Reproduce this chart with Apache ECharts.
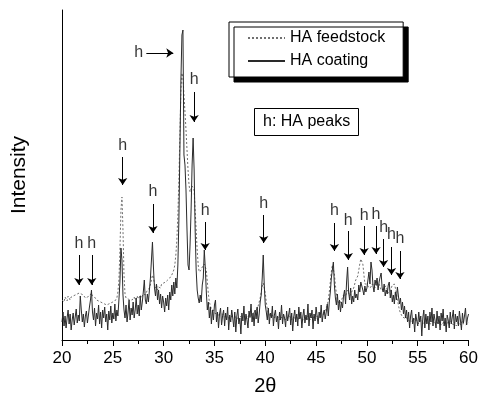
<!DOCTYPE html>
<html><head><meta charset="utf-8">
<script src="https://cdn.jsdelivr.net/npm/echarts@6/dist/echarts.min.js"></script>
<style>html,body{margin:0;padding:0;background:#fff}#c{width:481px;height:405px}</style>
</head><body><div id="c"></div>
<script>
// 2θ sampling grid (degrees)
const thetaStart = 20, thetaStep = 0.1;
// HA coating (solid) intensities, arbitrary units, one value per 0.1°
const coating = [
18,28,14,24,12,22,30,16,26,10,
20,27,15,23,31,17,25,19,44,30,
18,26,13,24,29,17,25,33,40,50,
28,20,32,14,27,21,35,16,28,12,
30,22,33,18,26,10,29,20,34,17,
27,21,36,19,30,24,40,58,92,80,
45,30,22,35,18,28,40,20,32,25,
38,22,30,42,26,35,24,44,30,38,
48,60,40,36,46,38,50,62,80,98,
72,52,44,56,40,50,36,46,32,44,
38,28,42,34,45,30,48,40,55,44,
58,46,62,52,75,120,190,260,305,310,
185,175,150,110,75,70,95,130,175,202,
170,110,70,50,42,37,45,38,55,62,
90,72,48,30,38,22,33,16,30,20,
35,40,18,28,12,26,32,15,24,30,
14,27,20,33,10,25,18,30,22,13,
28,8,24,31,16,22,6,27,19,34,
15,26,20,12,29,23,36,18,27,14,
30,21,33,17,26,38,45,62,85,55,
35,28,20,32,16,27,22,34,14,25,
30,18,24,11,28,20,35,16,26,22,
13,29,19,25,32,15,27,9,23,30,
18,26,14,33,21,28,12,24,31,17,
25,20,36,14,27,22,30,11,26,19,
33,24,16,28,22,35,18,26,30,21,
28,36,24,38,48,62,70,78,55,42,
35,46,30,40,28,38,32,44,50,36,
58,73,48,40,52,36,44,38,50,42,
46,40,55,48,58,60,50,45,54,48,
52,60,68,56,78,70,54,48,60,55,
62,50,58,63,67,52,48,56,44,50,
46,55,58,42,50,38,45,36,48,40,
53,44,36,42,30,38,26,34,22,30,
18,28,12,24,30,16,22,8,26,20,
14,28,18,24,4,22,30,12,26,16,
24,10,28,18,32,14,26,20,12,29,
16,24,10,27,19,31,14,22,8,25,
20,12,28,16,23,30,11,26,18,24,
14,29,20,10,27,17,24,32,15,22,
26
];
// HA feedstock (dashed) intensities
const feedstock = [
40,42,38,43,41,39,44,42,40,43,
41,44,42,45,43,46,44,47,48,46,
44,45,43,42,44,43,45,44,46,47,
44,42,43,41,40,42,39,40,38,39,
37,38,36,37,35,37,36,38,37,36,
38,37,39,40,42,48,60,90,130,143,
110,65,46,42,40,41,39,40,42,40,
41,43,40,42,44,41,43,45,42,44,
46,48,45,47,50,48,52,55,60,65,
62,56,52,55,50,53,55,52,56,54,
57,55,58,56,60,58,62,60,65,63,
70,75,85,100,125,160,205,250,267,262,
245,228,210,190,170,155,148,150,154,156,
150,130,110,90,75,68,67,70,73,75,
76,75,70,58,46,38,34,31,29,30,
27,29,26,28,25,27,26,24,26,25,
23,25,24,26,22,24,23,21,24,22,
24,21,23,22,20,23,21,24,22,23,
22,24,21,23,25,22,24,26,25,28,
27,29,31,34,38,42,48,54,57,55,
47,38,31,27,25,24,23,25,22,24,
23,21,24,22,20,23,21,22,24,21,
22,20,23,21,24,22,20,23,21,22,
21,23,20,22,24,21,23,20,22,21,
23,21,24,22,20,23,22,21,24,22,
21,24,22,23,25,24,26,25,28,30,
32,35,40,48,58,68,75,74,66,55,
46,40,38,36,37,40,42,45,43,44,
46,50,47,44,45,48,50,52,56,60,
58,64,70,76,81,82,76,66,56,54,
56,54,52,50,53,56,58,55,52,54,
56,58,56,53,50,48,50,53,55,54,
50,47,45,48,52,55,57,56,52,46,
40,35,30,27,25,23,24,22,21,23,
20,22,19,21,18,20,22,19,17,20,
18,16,19,17,20,18,16,19,17,18,
20,17,19,16,18,20,17,15,18,19,
17,19,16,18,15,17,19,16,18,17,
15,18,16,19,17,15,18,16,14,17,
16,18,15,17,19,16,18,15,17,16,
18
];
// "h" peak markers: 2θ, arrow top, arrow tip, label height
const peakTheta = [21.66,22.93,25.97,28.95,33.0,34.08,39.85,46.8,48.17,49.73,50.9,51.64,52.42,53.25];
const arrowTop  = [85,85,183,136,248,118,125,117,109,114,114,101,93,89];
const arrowTip  = [55,55,155,107,218,90,97,89,80,85,86,73,65,61];
const labelY    = [96,96,194,148,260,129,136,129,119,124,125,112,105,101];
// horizontal marker at main peak: label x, arrow start x, arrow end x, height
const mainMarker = {labelX: 27.55, fromX: 28.3, toX: 30.95, y: 287};
const xTicks = [20,25,30,35,40,45,50,55,60];

const font = 'Liberation Sans, Arial, Helvetica, sans-serif';
const pair = (arr) => arr.map((v, i) => [+(thetaStart + i * thetaStep).toFixed(1), v]);

const arrowLines = peakTheta.map((t, i) => [{coord: [t, arrowTop[i]]}, {coord: [t, arrowTip[i]]}]);
arrowLines.push([{coord: [mainMarker.fromX, mainMarker.y]}, {coord: [mainMarker.toX, mainMarker.y]}]);
const labelPts = peakTheta.map((t, i) => [t, labelY[i]]);
labelPts.push([mainMarker.labelX, mainMarker.y]);

const chart = echarts.init(document.getElementById('c'), null, {renderer: 'canvas'});
chart.setOption({
  animation: false,
  backgroundColor: '#fff',
  textStyle: {fontFamily: font},
  grid: {left: 62, right: 10, top: 10, bottom: 65},
  title: {
    text: 'h: HA peaks', left: 254, top: 108,
    borderColor: '#000', borderWidth: 1, padding: [6, 9],
    textStyle: {fontSize: 16, fontWeight: 'normal', color: '#000', fontFamily: font}
  },
  legend: {
    orient: 'vertical', left: 229, top: 22,
    padding: [8, 18, 8, 18], itemGap: 7, itemWidth: 37, itemHeight: 14,
    backgroundColor: '#fff', borderColor: '#000', borderWidth: 1,
    shadowColor: '#000', shadowBlur: 0, shadowOffsetX: 5, shadowOffsetY: 5,
    itemStyle: {opacity: 0},
    textStyle: {fontSize: 16, color: '#000', fontFamily: font},
    data: ['HA feedstock', 'HA coating']
  },
  xAxis: {
    type: 'value', min: 20, max: 60, interval: 5,
    name: '2θ', nameLocation: 'middle', nameGap: 36,
    nameTextStyle: {fontSize: 20, color: '#000', fontFamily: font},
    axisLine: {lineStyle: {color: '#000', width: 1}},
    axisTick: {length: 6, lineStyle: {color: '#000'}},
    minorTick: {show: true, splitNumber: 2, length: 4, lineStyle: {color: '#000'}},
    splitLine: {show: false},
    axisLabel: {fontSize: 17, color: '#000', margin: 10, fontFamily: font,
      formatter: (v) => xTicks.includes(v) ? String(v) : ''}
  },
  yAxis: {
    type: 'value', min: 0, max: 330,
    name: 'Intensity', nameLocation: 'middle', nameGap: 32, nameRotate: 90,
    nameTextStyle: {fontSize: 21, color: '#000', fontFamily: font},
    axisLine: {show: true, lineStyle: {color: '#000', width: 1}},
    axisTick: {show: false}, axisLabel: {show: false}, splitLine: {show: false}
  },
  series: [
    {
      name: 'HA feedstock', type: 'line', symbol: 'none', data: pair(feedstock),
      color: '#707070',
      lineStyle: {color: '#707070', width: 1, type: [2, 2]}, z: 2
    },
    {
      name: 'HA coating', type: 'line', symbol: 'none', data: pair(coating),
      color: '#2a2a2a',
      lineStyle: {color: '#2a2a2a', width: 1}, z: 3,
      markLine: {
        silent: true, symbol: ['none', 'arrow'], symbolSize: 7,
        label: {show: false},
        lineStyle: {color: '#000', width: 1, type: 'solid'},
        data: arrowLines
      }
    },
    {
      name: 'h', type: 'scatter', symbol: 'circle', symbolSize: 0, silent: true,
      data: labelPts,
      label: {show: true, position: 'inside', formatter: 'h', fontSize: 16, color: '#000',
        textBorderWidth: 0, fontFamily: font},
      z: 5
    }
  ]
});
</script></body></html>
